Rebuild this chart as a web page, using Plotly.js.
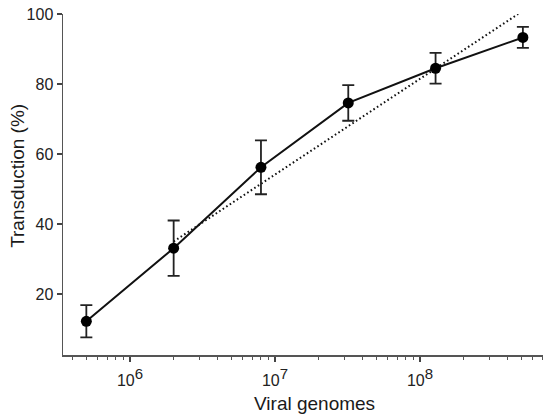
<!DOCTYPE html>
<html>
<head>
<meta charset="utf-8">
<script src="https://cdn.plot.ly/plotly-3.0.1.min.js"></script>
<style>html,body{margin:0;padding:0;background:#fff;}#chart{width:550px;height:419px;}</style>
</head>
<body>
<div id="chart"></div>
<script>
// Data
var genomes = [5e5, 2e6, 8e6, 3.2e7, 1.28e8, 5.12e8];
var transduction = [12.2, 33.1, 56.2, 74.6, 84.5, 93.3];
var errorSD = [4.6, 7.9, 7.7, 5.1, 4.4, 3.0];
var fitX = [2e6, 4.75e8];
var fitY = [35, 100];
var majorTicks = [1e6, 1e7, 1e8];
var majorExponents = ['6', '7', '8'];
var minorTicks = [4e5, 5e5, 6e5, 7e5, 8e5, 9e5,
  2e6, 3e6, 4e6, 5e6, 6e6, 7e6, 8e6, 9e6,
  2e7, 3e7, 4e7, 5e7, 6e7, 7e7, 8e7, 9e7,
  2e8, 3e8, 4e8, 5e8, 6e8, 7e8];
var yTicks = [20, 40, 60, 80, 100];
var xTitle = 'Viral genomes';
var yTitle = 'Transduction (%)';

var majorLabels = majorExponents.map(function (e) {
  return '10<sup><span style="font-size:15px">' + e + '</span></sup>';
});

var traces = [
  {
    x: fitX, y: fitY, mode: 'lines', type: 'scatter',
    line: {color: '#111', width: 2, dash: '1.6px,2.6px'},
    hoverinfo: 'skip', showlegend: false
  },
  {
    x: genomes, y: transduction, mode: 'lines+markers', type: 'scatter',
    line: {color: '#111', width: 2},
    marker: {color: '#000', size: 11},
    error_y: {type: 'data', array: errorSD, visible: true, color: '#222', thickness: 1.8, width: 6},
    showlegend: false
  }
];

var font = 'Liberation Sans, Arial, sans-serif';
var layout = {
  width: 550, height: 419,
  margin: {l: 63, r: 7, t: 14, b: 64},
  paper_bgcolor: '#fff', plot_bgcolor: '#fff',
  font: {family: font, color: '#222', size: 16},
  xaxis: {
    type: 'log',
    range: [5.538, 8.848],
    tickmode: 'array', tickvals: majorTicks, ticktext: majorLabels,
    ticks: 'outside', ticklen: 5, tickwidth: 1.3, tickcolor: '#444',
    ticklabelstandoff: 5,
    minor: {tickmode: 'array', tickvals: minorTicks, ticks: 'outside', ticklen: 3, tickwidth: 1, tickcolor: '#555', showgrid: false},
    showline: true, linecolor: '#555', linewidth: 1.5,
    showgrid: false, zeroline: false,
    tickfont: {size: 16, color: '#222'}
  },
  yaxis: {
    range: [2.57, 100],
    tickmode: 'array', tickvals: yTicks,
    ticks: 'outside', ticklen: 5, tickwidth: 1.3, tickcolor: '#444',
    showline: true, linecolor: '#555', linewidth: 1.5,
    showgrid: false, zeroline: false,
    tickfont: {size: 16, color: '#222'}
  },
  annotations: [
    {text: xTitle, xref: 'paper', yref: 'paper', x: 0.523, y: -0.141,
     xanchor: 'center', yanchor: 'middle', showarrow: false,
     font: {size: 19, color: '#1a1a1a'}},
    {text: yTitle, xref: 'paper', yref: 'paper', x: -0.094, y: 0.525,
     xanchor: 'center', yanchor: 'middle', textangle: -90, showarrow: false,
     font: {size: 19, color: '#1a1a1a'}}
  ]
};

Plotly.newPlot('chart', traces, layout, {displayModeBar: false, staticPlot: true});
</script>
</body>
</html>
